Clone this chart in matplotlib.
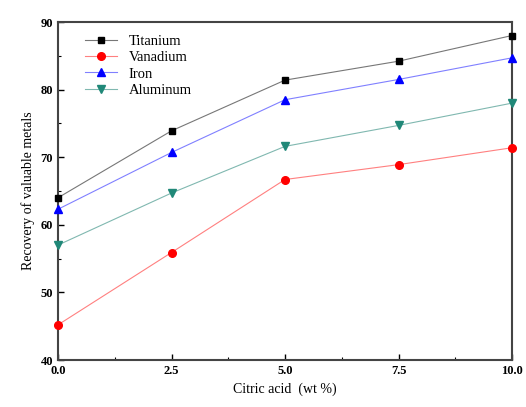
import numpy as np
import matplotlib.pyplot as plt
from matplotlib.ticker import MultipleLocator

plt.rcParams['font.family'] = ['Liberation Serif', 'DejaVu Serif']

citric = [0.0, 2.5, 5.0, 7.5, 10.0]
titanium = [64.0, 73.9, 81.4, 84.2, 88.0]
vanadium = [45.2, 55.9, 66.7, 68.9, 71.4]
iron = [62.3, 70.7, 78.5, 81.5, 84.7]
aluminum = [57.0, 64.7, 71.6, 74.7, 78.0]

fig = plt.figure(figsize=(5.26, 4.07), dpi=100)
ax = fig.add_axes([58/526, 47/407, 454/526, 338/407])

series = [
    (titanium, 'black', '#777777', 's', 5, 'Titanium'),
    (vanadium, 'red', '#ff8080', 'o', 5.5, 'Vanadium'),
    (iron, 'blue', '#8080ff', '^', 5.5, 'Iron'),
    (aluminum, '#208878', '#80b8b0', 'v', 5.5, 'Aluminum'),
]
for vals, mc, lc, mk, ms, name in series:
    ax.plot(citric, vals, color=lc, lw=0.8, marker=mk, ms=ms, mfc=mc, mec=mc,
            label=name, clip_on=False, zorder=3)

ax.set_xlim(0, 10)
ax.set_ylim(40, 90)
ax.xaxis.set_major_locator(MultipleLocator(2.5))
ax.xaxis.set_minor_locator(MultipleLocator(1.25))
ax.yaxis.set_major_locator(MultipleLocator(10))
ax.yaxis.set_minor_locator(MultipleLocator(5))
ax.tick_params(which='both', direction='in', top=False, right=False)
ax.tick_params(which='major', length=4, width=1)
ax.tick_params(which='minor', length=2, width=0.8)
for lab in ax.get_xticklabels() + ax.get_yticklabels():
    lab.set_fontweight('bold')
    lab.set_fontsize(9)
ax.xaxis.set_major_formatter(plt.FormatStrFormatter('%.1f'))
for s in ax.spines.values():
    s.set_linewidth(1.5)
    s.set_color('#444444')

ax.set_xlabel('Citric acid  (wt %)', fontsize=10)
ax.set_ylabel('Recovery of valuable metals', fontsize=10)

ax.legend(loc='upper left', frameon=False, fontsize=10.5, bbox_to_anchor=(0.03, 1.0),
          handlelength=2.2, labelspacing=0.2)

fig.savefig('out.png', dpi=100)
